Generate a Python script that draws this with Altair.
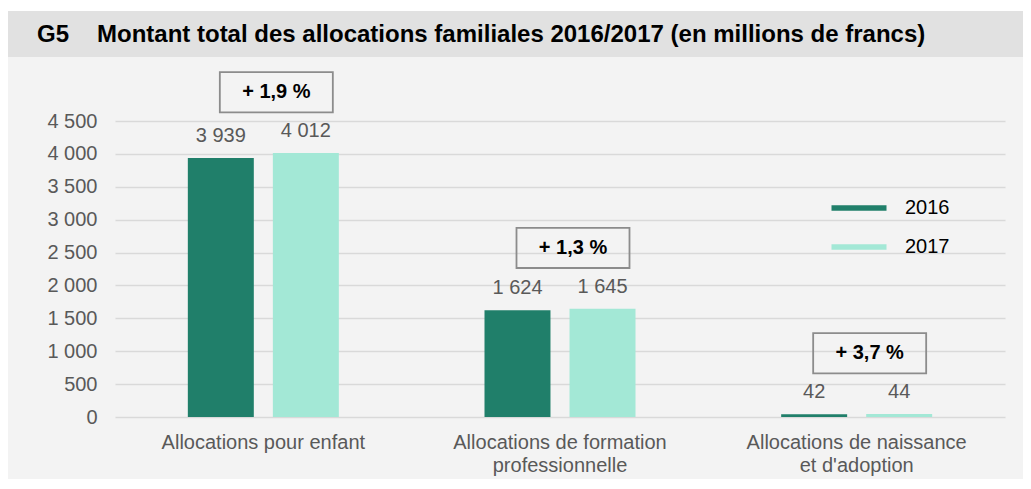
import altair as alt
import pandas as pd

categories = ["Allocations pour enfant",
              "Allocations de formation\nprofessionnelle",
              "Allocations de naissance\net d'adoption"]
years = ["2016", "2017"]
values_2016 = [3939, 1624, 42]
values_2017 = [4012, 1645, 44]
changes = ["+ 1,9 %", "+ 1,3 %", "+ 3,7 %"]
y_ticks = [0, 500, 1000, 1500, 2000, 2500, 3000, 3500, 4000, 4500]
title_code = "G5"
title_text = "Montant total des allocations familiales 2016/2017 (en millions de francs)"

C2016 = "#207f6a"
C2017 = "#a3e8d6"
FONT = "Liberation Sans"
GREY = "#595959"
FS = 20


def fr(v):
    return f"{v:,}".replace(",", " ")


rows = []
for c, a, b in zip(categories, values_2016, values_2017):
    rows.append({"cat": c, "year": "2016", "value": a, "label": fr(a)})
    rows.append({"cat": c, "year": "2017", "value": b, "label": fr(b)})
df = pd.DataFrame(rows)

boxes = pd.DataFrame({
    "cat": categories,
    "change": changes,
    "mx": [max(a, b) for a, b in zip(values_2016, values_2017)],
})
boxes["bottom"] = boxes["mx"] + 620
boxes["top"] = boxes["mx"] + 1230
boxes["mid"] = boxes["mx"] + 925

one = pd.DataFrame({"k": [0]})

xscale = alt.Scale(paddingInner=0.491, paddingOuter=0.2455)
xaxis = alt.Axis(labelExpr="split(datum.label, '\\n')", labelAngle=0,
                 labelFontSize=FS, labelColor=GREY, labelFont=FONT, labelLimit=0,
                 labelPadding=15, labelLineHeight=23, ticks=False,
                 domain=False, grid=False)
yscale = alt.Scale(domain=[0, 4500], nice=False)
yaxis = alt.Axis(values=y_ticks, labelExpr="replace(format(datum.value, ','), ',', ' ')",
                 labelFontSize=FS, labelColor=GREY, labelFont=FONT, labelOverlap=False,
                 labelPadding=18, ticks=False, domain=False,
                 gridColor="#d9d9d9", gridWidth=1.5)


def X():
    return alt.X("cat:N", sort=categories, title=None, scale=xscale, axis=xaxis)


def Y(field):
    return alt.Y(field, title=None, scale=yscale, axis=yaxis)


white_strip = alt.Chart(one).mark_rect(color="white").encode(
    x=alt.value(-115), x2=alt.value(908), y=alt.value(-121), y2=alt.value(-110))
band = alt.Chart(one).mark_rect(color="#e1e1e1").encode(
    x=alt.value(-111), x2=alt.value(908), y=alt.value(-110), y2=alt.value(-64))
t1 = alt.Chart(one).mark_text(align="left", baseline="middle", fontSize=24,
                              fontWeight="bold", font=FONT, color="black").encode(
    x=alt.value(-78), y=alt.value(-86), text=alt.value(title_code))
t2 = alt.Chart(one).mark_text(align="left", baseline="middle", fontSize=24,
                              fontWeight="bold", font=FONT, color="black").encode(
    x=alt.value(-18), y=alt.value(-86), text=alt.value(title_text))

bars = alt.Chart(df).mark_bar().encode(
    x=X(), y=Y("value:Q"),
    xOffset=alt.XOffset("year:N", sort=years,
                        scale=alt.Scale(paddingInner=0.224, paddingOuter=0)),
    color=alt.Color("year:N", sort=years,
                    scale=alt.Scale(domain=years, range=[C2016, C2017]),
                    legend=alt.Legend(title=None, orient="none", legendX=734, legendY=77,
                                      symbolType="M-5,-0.5H5V0.5H-5Z", symbolSize=121,
                                      labelFontSize=FS, labelColor="black", labelFont=FONT,
                                      labelOffset=36, rowPadding=19, padding=0,
                                      symbolStrokeWidth=0)),
)
labels = alt.Chart(df).mark_text(baseline="middle", dy=-22, fontSize=FS,
                                 color=GREY, font=FONT).encode(
    x=X(), xOffset=alt.XOffset("year:N", sort=years),
    y=Y("value:Q"), text="label:N")

box = alt.Chart(boxes).mark_bar(width=113, xOffset=13, fillOpacity=0,
                                stroke="#8c8c8c", strokeWidth=1.8).encode(
    x=X(), y=Y("bottom:Q"), y2="top:Q")
pct = alt.Chart(boxes).mark_text(dx=13, baseline="middle", fontSize=FS,
                                 fontWeight="bold", color="black", font=FONT).encode(
    x=X(), y=Y("mid:Q"), text="change:N")

chart = alt.layer(white_strip, band, t1, t2, bars, labels, box, pct).properties(
    width=890, height=296,
    padding={"left": 107, "top": 113, "right": 18, "bottom": 62},
    autosize=alt.AutoSizeParams(type="none"),
).configure(background="#f3f3f3").configure_view(stroke=None)

chart.save("out.html", embed_options={"renderer": "svg", "actions": False})
